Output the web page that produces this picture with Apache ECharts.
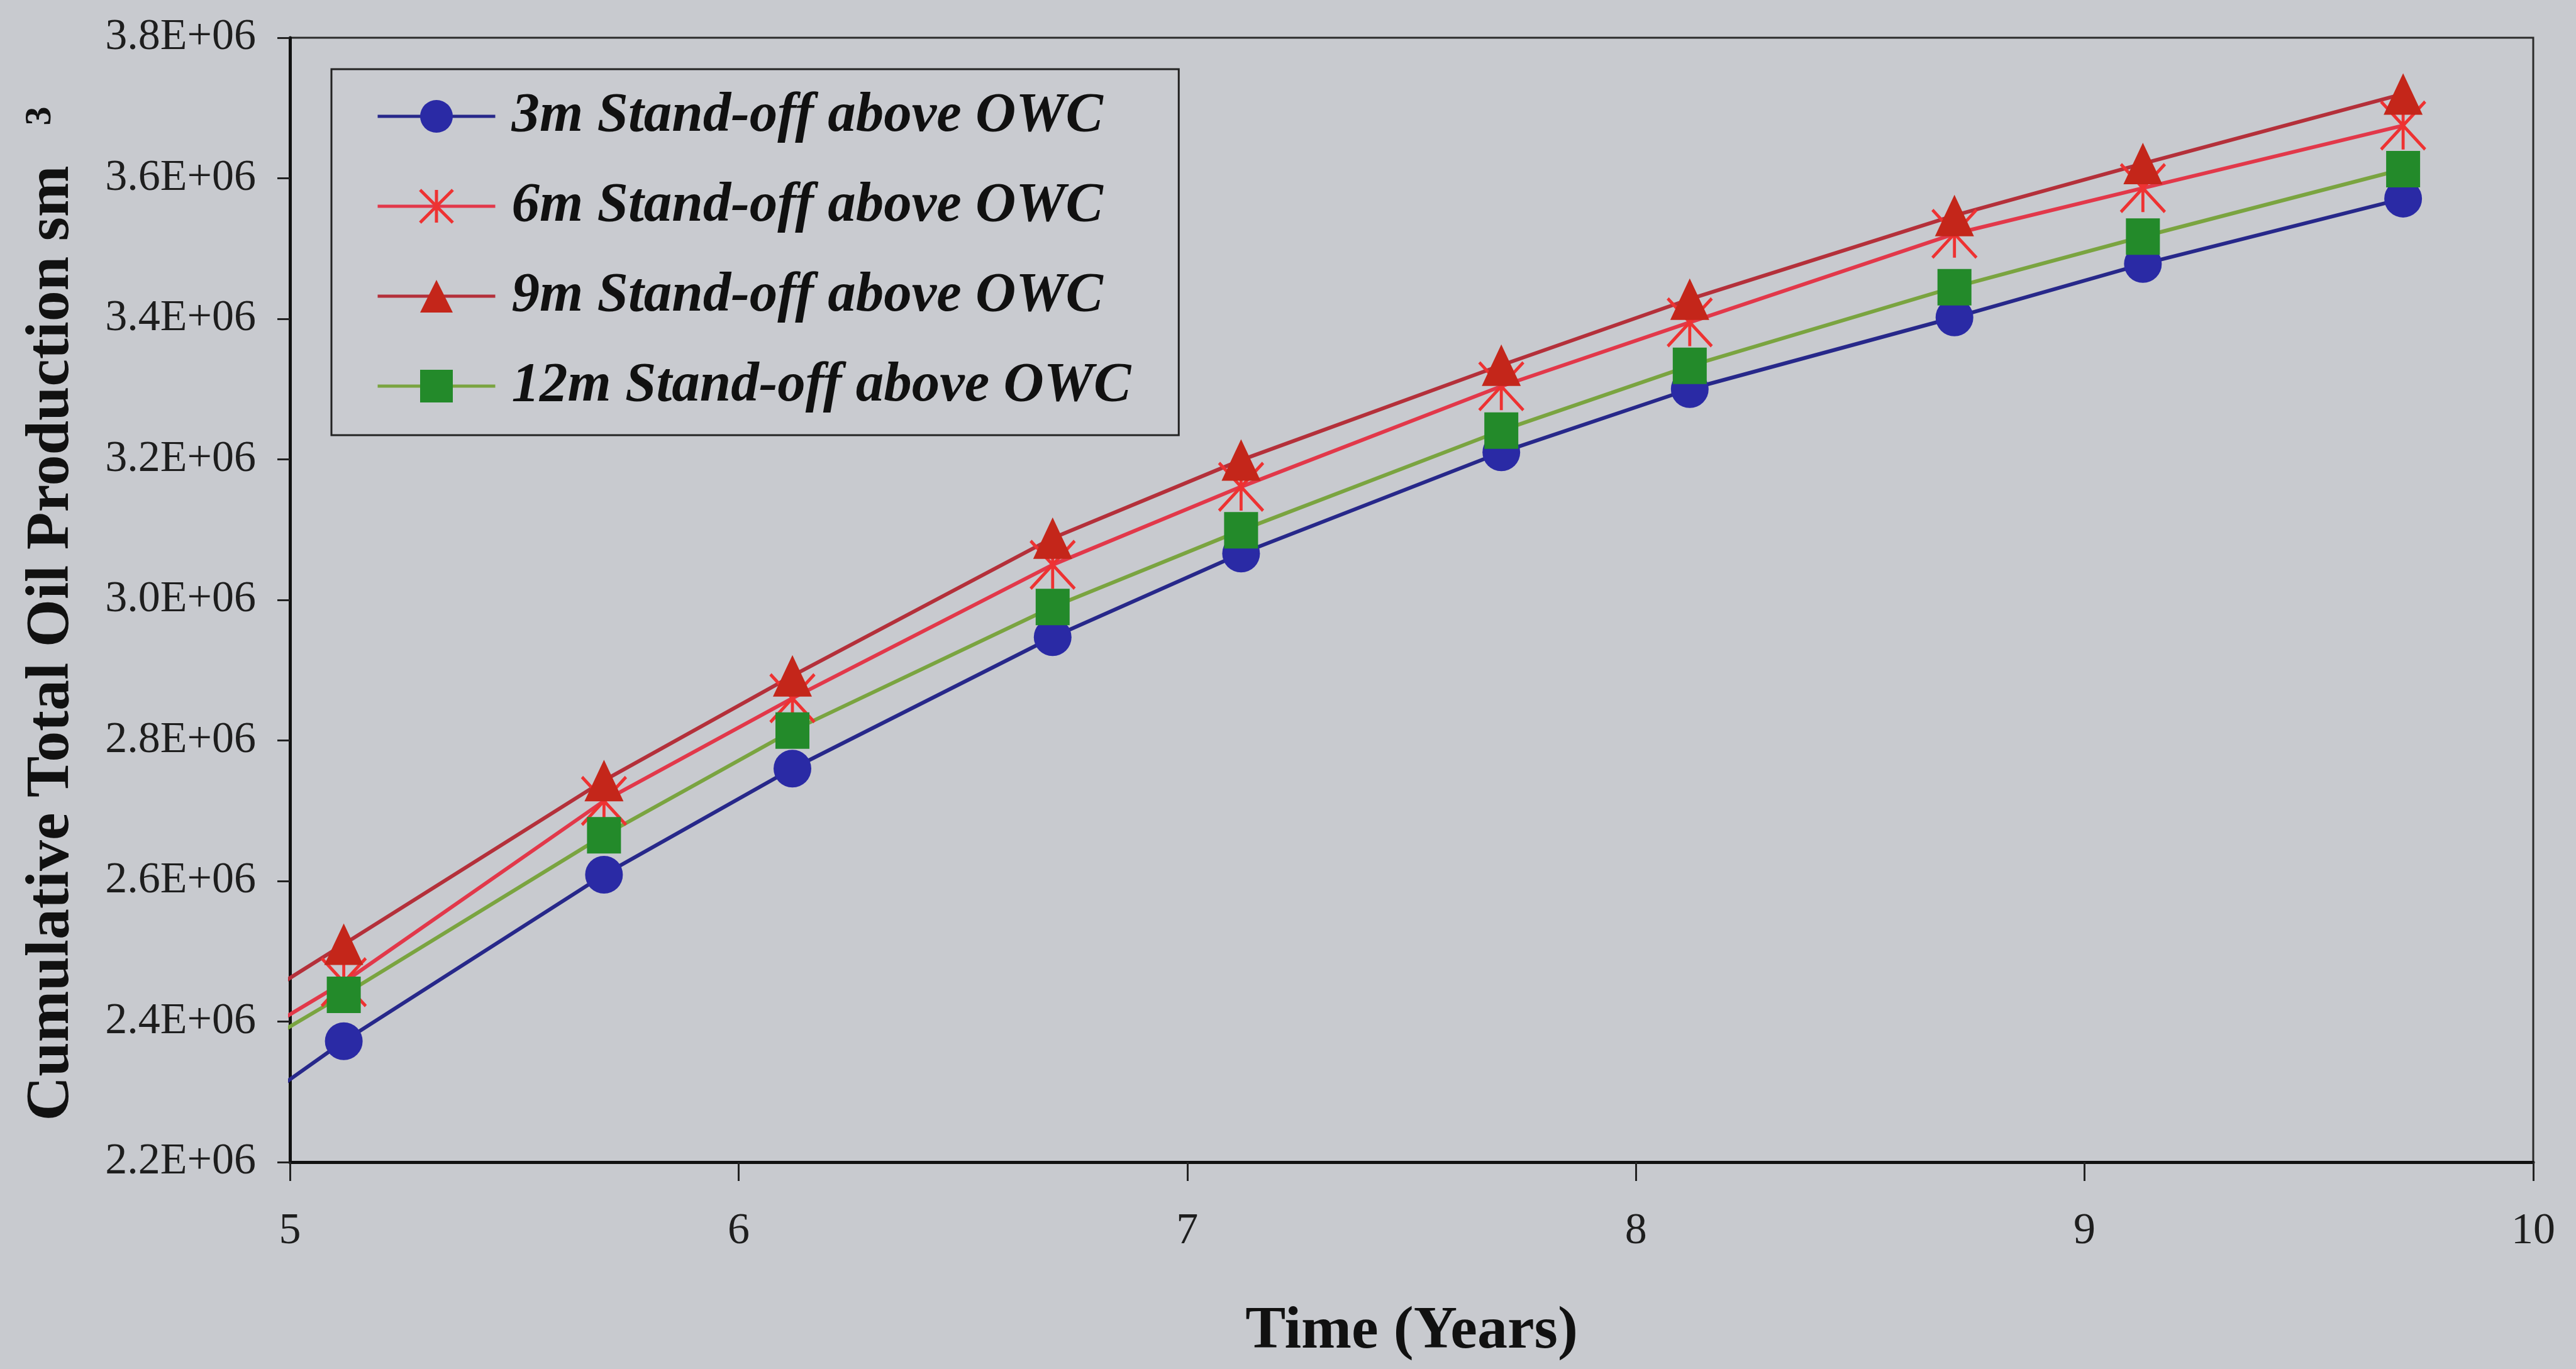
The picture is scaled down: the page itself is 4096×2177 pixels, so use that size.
<!DOCTYPE html>
<html>
<head>
<meta charset="utf-8">
<script src="https://cdn.jsdelivr.net/npm/echarts@6/dist/echarts.min.js"></script>
<style>
  html, body { margin: 0; padding: 0; background: #c8cacf; }
  #chart { width: 4096px; height: 2177px; }
</style>
</head>
<body>
<div id="chart"></div>
<script>
// time (years) of each reported point, first one is off the left edge and has no marker
const times = [4.95, 5.12, 5.70, 6.12, 6.70, 7.12, 7.70, 8.12, 8.71, 9.13, 9.71]

// cumulative oil production, sm3
const standOff3m = [2295000, 2372000, 2609000, 2760000, 2947000, 3066000, 3210000, 3300000, 3402000, 3478000, 3571000]
const standOff6m = [2391000, 2456000, 2714000, 2860000, 3050000, 3161000, 3304000, 3395000, 3521000, 3586000, 3675000]
const standOff9m = [2442000, 2510000, 2743000, 2892000, 3088000, 3199000, 3334000, 3428000, 3547000, 3621000, 3720000]
const standOff12m = [2374000, 2438000, 2665000, 2814000, 2990000, 3099000, 3241000, 3333000, 3445000, 3517000, 3613000]

const seriesNames = [
  '3m Stand-off above OWC',
  '6m Stand-off above OWC',
  '9m Stand-off above OWC',
  '12m Stand-off above OWC',
]

const serif = 'Liberation Serif'

const toPoints = (values) =>
  times.map((t, i) => (i === 0 ? { value: [t, values[i]], symbol: 'none' } : [t, values[i]]))

const makeSeries = (name, values, lineColor, symbol, symbolSize, itemStyle) => ({
  name,
  type: 'line',
  data: toPoints(values),
  symbol,
  symbolSize,
  showAllSymbol: true,
  clip: false,
  lineStyle: { color: lineColor, width: 6 },
  itemStyle,
  emphasis: { disabled: true },
})

const myChart = echarts.init(document.getElementById('chart'))

const option = {
  animation: false,
  backgroundColor: '#c8cacf',
  grid: {
    left: 461,
    right: 68,
    top: 60,
    bottom: 329,
    show: true,
    borderColor: '#2a2a2a',
    borderWidth: 3,
    backgroundColor: 'transparent',
  },
  legend: {
    orient: 'vertical',
    left: 527,
    top: 110,
    padding: [25, 76, 28, 71],
    itemGap: 43,
    itemWidth: 187,
    itemHeight: 65,
    backgroundColor: '#c9cbd0',
    borderColor: '#222',
    borderWidth: 3,
    borderRadius: 0,
    lineStyle: { width: 5 },
    data: [
      seriesNames[0],
      { name: seriesNames[1], itemStyle: { borderWidth: 5 } },
      seriesNames[2],
      seriesNames[3],
    ],
    textStyle: {
      fontFamily: serif,
      fontStyle: 'italic',
      fontWeight: 'bold',
      fontSize: 89,
      lineHeight: 100,
      color: '#111',
      padding: [0, 0, 0, 21],
    },
  },
  xAxis: {
    type: 'value',
    min: 5,
    max: 10,
    interval: 1,
    name: 'Time (Years)',
    nameLocation: 'middle',
    nameGap: 222,
    nameTextStyle: {
      fontFamily: serif,
      fontWeight: 'bold',
      fontSize: 96,
      color: '#111',
    },
    axisLine: { show: true, lineStyle: { color: '#111', width: 5 } },
    axisTick: { show: true, inside: false, length: 30, lineStyle: { color: '#222', width: 3 } },
    axisLabel: {
      fontFamily: serif,
      fontSize: 70,
      color: '#1e1e1e',
      margin: 76,
    },
    splitLine: { show: false },
  },
  yAxis: {
    type: 'value',
    min: 2200000,
    max: 3800000,
    interval: 200000,
    name: '{a|Cumulative Total Oil Production sm}{s|3}',
    nameLocation: 'middle',
    nameRotate: 90,
    nameGap: 329,
    nameTextStyle: {
      rich: {
        a: {
          fontFamily: serif,
          fontWeight: 'bold',
          fontSize: 98,
          lineHeight: 98,
          color: '#111',
        },
        s: {
          fontFamily: serif,
          fontWeight: 'bold',
          fontSize: 60,
          lineHeight: 30,
          verticalAlign: 'top',
          padding: [0, 44, 0, 64],
          color: '#111',
        },
      },
    },
    axisLine: { show: true, lineStyle: { color: '#111', width: 5 } },
    axisTick: { show: true, inside: false, length: 20, lineStyle: { color: '#222', width: 3 } },
    axisLabel: {
      fontFamily: serif,
      fontSize: 70,
      color: '#1e1e1e',
      margin: 54,
      formatter: (v) => (v / 1e6).toFixed(1) + 'E+06',
    },
    splitLine: { show: false },
  },
  series: [
    makeSeries(seriesNames[0], standOff3m, '#27288a', 'circle', 60, { color: '#2a2aa5' }),
    makeSeries(seriesNames[1], standOff6m, '#e2384a', 'path://M0 0L10 12M10 0L0 12M5 0L5 12', [70, 76], {
      color: 'rgba(0,0,0,0)',
      borderColor: '#ee3232',
      borderWidth: 5,
    }),
    makeSeries(seriesNames[2], standOff9m, '#b4303a', 'triangle', [62, 66], { color: '#c4261a' }),
    makeSeries(seriesNames[3], standOff12m, '#7aa440', 'rect', [54, 58], { color: '#238a2a' }),
  ],
}

option && myChart.setOption(option)
</script>
</body>
</html>
